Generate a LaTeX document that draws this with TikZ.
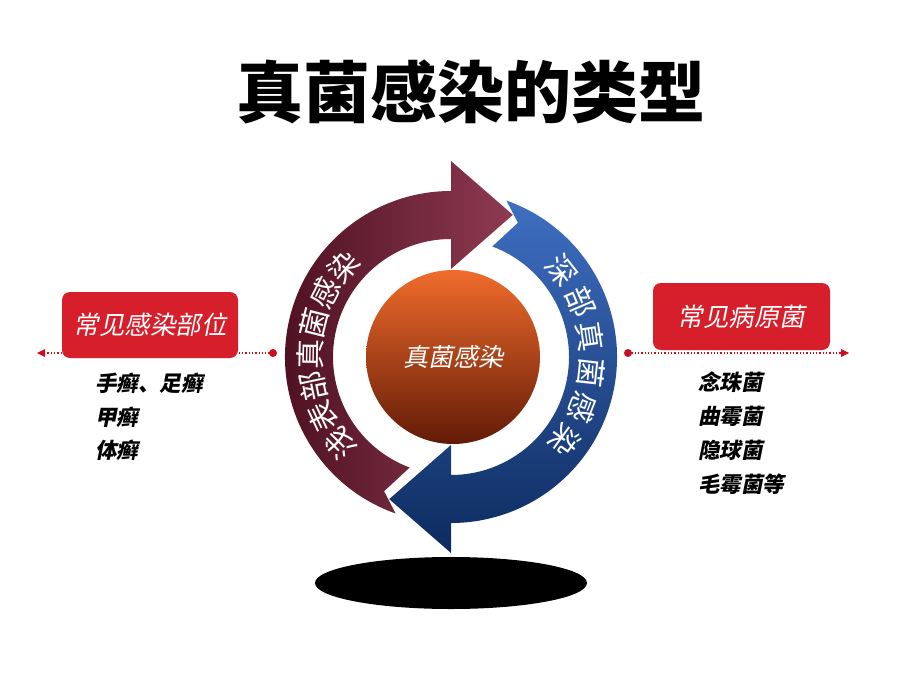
\documentclass[tikz,border=0pt]{standalone}
\usepackage{fontspec}
\usetikzlibrary{arrows.meta,calc}
\newfontfamily\cjk{Noto Sans CJK SC}
\newfontfamily\cjkit[FakeSlant=0.2]{Noto Sans CJK SC}
\definecolor{boxred}{HTML}{D61F2B}
\definecolor{marD}{HTML}{4A0E1E}
\definecolor{marL}{HTML}{8E3A52}
\definecolor{bluL}{HTML}{3F6FC2}
\definecolor{bluD}{HTML}{0C2A5E}
\definecolor{orT}{HTML}{F06C2C}
\definecolor{orM}{HTML}{D84A0E}
\definecolor{orB}{HTML}{621A06}
\definecolor{dotred}{HTML}{C8101E}
\tikzset{
  redbox/.style={rectangle, rounded corners=8pt, fill=boxred, text=white, inner sep=0pt,
    font=\cjkit\fontsize{25.5}{25.5}\selectfont},
  ringtxt/.style={text=white, inner sep=0pt, font=\cjk\fontsize{30}{30}\selectfont},
  listtxt/.style={anchor=west, inner sep=0pt, text=black, font=\cjkit\bfseries\fontsize{21.5}{21.5}\selectfont},
  dotline/.style={draw=dotred, line width=1.3pt, dotted},
}
\begin{document}
\begin{tikzpicture}[x=1pt,y=1pt]
\useasboundingbox (0,0) rectangle (920,-690);
\fill[white] (0,0) rectangle (920,-690);

% title
\node[font=\cjk\bfseries\fontsize{67}{67}\selectfont, inner sep=0pt] (title) at (471,-92) {真菌感染的类型};

% shadow ellipse
\fill[black] (451,-583) ellipse [x radius=136, y radius=26];

\coordinate (C) at (451,-357);

% maroon arrow (shallow fungal infection)
\shade[left color=marD, right color=marL]
  ($(C)+(250.5:166)$) arc[start angle=250.5, end angle=90, radius=166]
  -- ($(C)+(90:196)$) -- ($(C)+(66.5:155)$) -- ($(C)+(90:88)$)
  -- ($(C)+(90:118)$) arc[start angle=90, end angle=249.5, radius=118]
  -- ($(C)+(243.5:150)$) -- cycle;

% blue arrow (deep fungal infection)
\shade[top color=bluL, bottom color=bluD]
  ($(C)+(70.5:166)$) arc[start angle=70.5, end angle=-90, radius=166]
  -- ($(C)+(-90:196)$) -- ($(C)+(-113.5:155)$) -- ($(C)+(-90:88)$)
  -- ($(C)+(-90:118)$) arc[start angle=-90, end angle=69.5, radius=118]
  -- ($(C)+(63.5:150)$) -- cycle;

% centre circle
\shade[top color=orT, middle color=orM, bottom color=orB] (453,-357) circle (87);
\node[text=white, inner sep=0pt, font=\cjkit\fontsize{25}{25}\selectfont] (core) at (453,-357) {真菌感染};

% ring texts
\foreach \ch [count=\i from 0] in {浅,表,部,真,菌,感,染} {
  \pgfmathsetmacro{\ang}{218-13*\i}
  \pgfmathsetmacro{\rot}{\ang-90}
  \node[ringtxt, rotate=\rot] (l\i) at ($(C)+(\ang:141)$) {\ch};
}
\foreach \ch [count=\i from 0] in {深,部,真,菌,感,染} {
  \pgfmathsetmacro{\ang}{38-14.8*\i}
  \pgfmathsetmacro{\rot}{\ang-90}
  \node[ringtxt, rotate=\rot] (r\i) at ($(C)+(\ang:141)$) {\ch};
}

% dotted connectors
\coordinate (ldot) at (273,-353);
\coordinate (lend) at (37,-353);
\coordinate (rdot) at (628,-353);
\coordinate (rend) at (849,-353);
\draw[dotline] (ldot) -- ($(lend)+(6,0)$);
\fill[dotred] (lend) -- ++(8,4) -- ++(0,-8) -- cycle;
\fill[dotred] (ldot) circle (4);
\draw[dotline] (rdot) -- ($(rend)+(-6,0)$);
\fill[dotred] (rend) -- ++(-8,4) -- ++(0,-8) -- cycle;
\fill[dotred] (rdot) circle (4);

% red boxes
\node[redbox, minimum width=176, minimum height=66] (lbox) at (150,-325) {常见感染部位};
\node[redbox, minimum width=177, minimum height=67] (rbox) at (741.5,-316.5) {常见病原菌};

% lists
\node[listtxt] (l1a) at (95,-383) {手癣、足癣};
\node[listtxt] (l1b) at (95,-417) {甲癣};
\node[listtxt] (l1c) at (95,-450) {体癣};
\node[listtxt] (r1a) at (698,-382) {念珠菌};
\node[listtxt] (r1b) at (698,-416) {曲霉菌};
\node[listtxt] (r1c) at (698,-450) {隐球菌};
\node[listtxt] (r1d) at (698,-484) {毛霉菌等};
\end{tikzpicture}
\end{document}
